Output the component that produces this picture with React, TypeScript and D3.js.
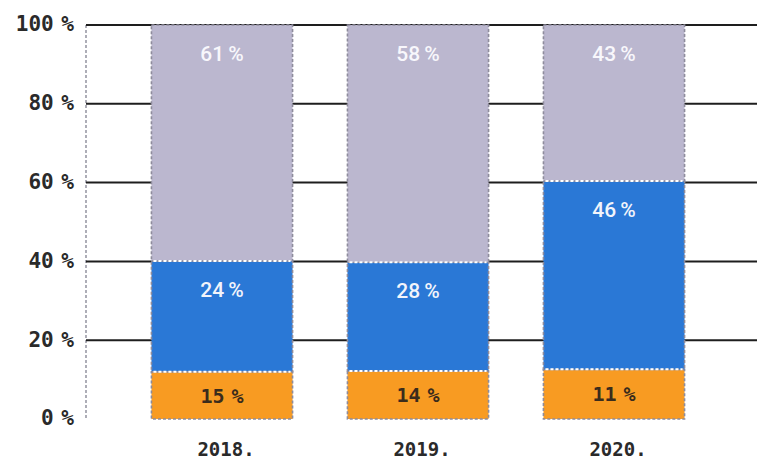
import React from "react";
import * as d3 from "d3";

const years = ["2018.", "2019.", "2020."];
// segment heights as drawn (percentage points of the 0–100 axis)
const orangeHeights = [12, 12.2, 12.6];
const blueHeights = [28.1, 27.6, 47.8];
const grayHeights = [59.9, 60.2, 39.6];
// printed labels
const orangeLabels = ["15 %", "14 %", "11 %"];
const blueLabels = ["24 %", "28 %", "46 %"];
const grayLabels = ["61 %", "58 %", "43 %"];
const yTicks = [0, 20, 40, 60, 80, 100];
const yTickLabels = ["0 %", "20 %", "40 %", "60 %", "80 %", "100 %"];

const W = 757;
const H = 463;

export default function App() {
  const x = d3.scaleBand<string>().domain(years).range([124, 712]).paddingInner(0.28).paddingOuter(0.14);
  const y = d3.scaleLinear().domain([0, 100]).range([419, 25]);
  const bw = x.bandwidth();

  const series = [
    { key: "orange", heights: orangeHeights, labels: orangeLabels, fill: "#f89b22", text: "#3b2c1c", mono: true, pos: "mid" },
    { key: "blue", heights: blueHeights, labels: blueLabels, fill: "#2a78d6", text: "#f2f4fb", mono: false, pos: "top" },
    { key: "gray", heights: grayHeights, labels: grayLabels, fill: "#bbb7cf", text: "#f8f7fc", mono: false, pos: "top" },
  ];

  const segs: any[] = [];
  years.forEach((yr, i) => {
    let base = 0;
    series.forEach((s) => {
      const v0 = base;
      const v1 = base + s.heights[i];
      base = v1;
      segs.push({ yr, i, s, v0, v1 });
    });
  });

  const mono = "'DejaVu Sans Mono', monospace";

  return (
    <svg width={W} height={H} style={{ position: "absolute", left: 0, top: 0, background: "#fff" }}>
      {/* left dotted axis */}
      <line x1={86} x2={86} y1={y(100)} y2={y(0)} stroke="#9a9aa6" strokeWidth={1.6} strokeDasharray="3 2" />
      {/* gridlines */}
      {yTicks.filter((t) => t > 0).map((t) => (
        <line key={t} x1={86} x2={W} y1={y(t)} y2={y(t)} stroke="#1e1e1e" strokeWidth={2} />
      ))}
      {/* y tick labels */}
      {yTicks.map((t, k) => (
        <text key={t} x={74} y={y(t)} dy="0.3em" textAnchor="end" fontFamily={mono} fontWeight="bold" fontSize={21} wordSpacing={-5} fill="#2a2a2a">
          {yTickLabels[k]}
        </text>
      ))}
      {/* bars */}
      {segs.map((d) => (
        <rect
          key={d.yr + d.s.key}
          x={x(d.yr)}
          y={y(d.v1)}
          width={bw}
          height={y(d.v0) - y(d.v1)}
          fill={d.s.fill}
          stroke="#8e8c9c"
          strokeWidth={1.6}
          strokeDasharray="3 2"
        />
      ))}
      {/* white separators between segments */}
      {segs.filter((d) => d.v0 > 0).map((d) => (
        <line
          key={"sep" + d.yr + d.s.key}
          x1={(x(d.yr) as number) + 2}
          x2={(x(d.yr) as number) + bw - 2}
          y1={y(d.v0)}
          y2={y(d.v0)}
          stroke="#ffffff"
          strokeWidth={2}
          strokeDasharray="3 2"
        />
      ))}
      {/* value labels */}
      {segs.map((d) => {
        const cx = (x(d.yr) as number) + bw / 2;
        const cy = d.s.pos === "mid" ? (y(d.v0) + y(d.v1)) / 2 : y(d.v1) + 28;
        return (
          <text
            key={"lbl" + d.yr + d.s.key}
            x={cx}
            y={cy}
            dy="0.36em"
            textAnchor="middle"
            fontFamily={d.s.mono ? mono : "Roboto, sans-serif"}
            fontWeight={d.s.mono ? "bold" : 500}
            fontSize={d.s.mono ? 20 : 21}
            wordSpacing={d.s.mono ? -5 : -1}
            fill={d.s.text}
          >
            {d.s.labels[d.i]}
          </text>
        );
      })}
      {/* x labels */}
      {years.map((yr) => (
        <text key={yr} x={(x(yr) as number) + bw / 2 + 4} y={456} textAnchor="middle" fontFamily={mono} fontWeight="bold" fontSize={19} fill="#2a2a2a">
          {yr}
        </text>
      ))}
    </svg>
  );
}
